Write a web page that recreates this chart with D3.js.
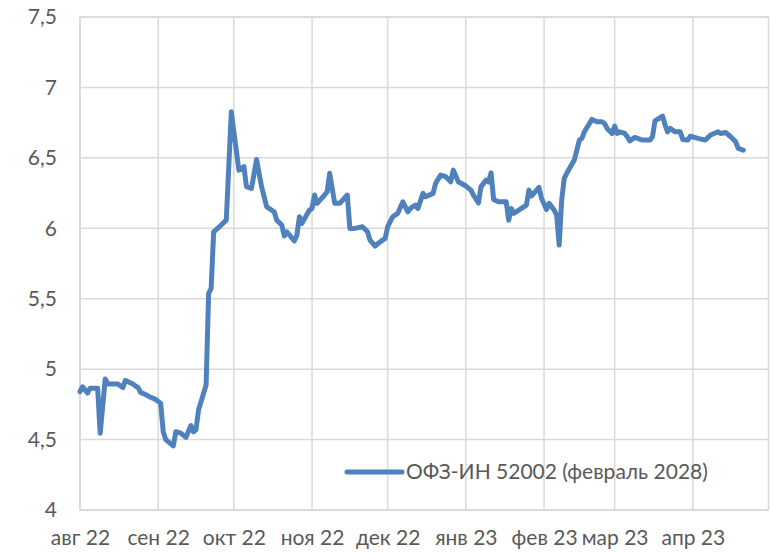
<!DOCTYPE html>
<html>
<head>
<meta charset="utf-8">
<script src="https://cdn.jsdelivr.net/npm/d3@7"></script>
<style>
  html, body { margin: 0; padding: 0; background: #fff; }
  svg { display: block; }
  text { font-family: Lato, "Open Sans", sans-serif; fill: #595959; }
</style>
</head>
<body>
<svg id="chart" width="774" height="554"></svg>
<script>
// Доходность ОФЗ-ИН 52002, %
const seriesName = "ОФЗ-ИН 52002 (февраль 2028)";

const dates = [
  "2022-08-01","2022-08-02","2022-08-04","2022-08-05","2022-08-08","2022-08-09","2022-08-11","2022-08-12",
  "2022-08-16","2022-08-18","2022-08-19","2022-08-22","2022-08-23","2022-08-24","2022-08-25","2022-08-27",
  "2022-08-29","2022-08-31","2022-09-02","2022-09-03","2022-09-04","2022-09-06","2022-09-07","2022-09-08",
  "2022-09-10","2022-09-12","2022-09-14","2022-09-15","2022-09-16","2022-09-17","2022-09-20","2022-09-21",
  "2022-09-22","2022-09-23","2022-09-26","2022-09-28","2022-09-30","2022-10-01","2022-10-03","2022-10-05",
  "2022-10-06","2022-10-08","2022-10-10","2022-10-12","2022-10-14","2022-10-17","2022-10-18","2022-10-20",
  "2022-10-21","2022-10-22","2022-10-25","2022-10-26","2022-10-27","2022-10-28","2022-10-31","2022-11-01",
  "2022-11-02","2022-11-03","2022-11-06","2022-11-07","2022-11-08","2022-11-10","2022-11-12","2022-11-15",
  "2022-11-16","2022-11-18","2022-11-21","2022-11-23","2022-11-24","2022-11-26","2022-11-28","2022-11-30",
  "2022-12-01","2022-12-03","2022-12-05","2022-12-07","2022-12-09","2022-12-10","2022-12-12","2022-12-13",
  "2022-12-15","2022-12-16","2022-12-19","2022-12-20","2022-12-22","2022-12-24","2022-12-26","2022-12-27",
  "2022-12-29","2023-01-01","2023-01-03","2023-01-04","2023-01-06","2023-01-07","2023-01-09","2023-01-10",
  "2023-01-11","2023-01-12","2023-01-14","2023-01-17","2023-01-18","2023-01-19","2023-01-20","2023-01-25",
  "2023-01-26","2023-01-27","2023-01-30","2023-01-31","2023-02-02","2023-02-03","2023-02-05","2023-02-06",
  "2023-02-07","2023-02-08","2023-02-09","2023-02-10","2023-02-13","2023-02-15","2023-02-16","2023-02-17",
  "2023-02-20","2023-02-22","2023-02-24","2023-02-25","2023-02-26","2023-02-28","2023-03-01","2023-03-02",
  "2023-03-03","2023-03-05","2023-03-06","2023-03-07","2023-03-09","2023-03-12","2023-03-15","2023-03-16",
  "2023-03-17","2023-03-20","2023-03-21","2023-03-22","2023-03-23","2023-03-25","2023-03-27","2023-03-28",
  "2023-03-30","2023-03-31","2023-04-03","2023-04-06","2023-04-08","2023-04-11","2023-04-12","2023-04-14",
  "2023-04-16","2023-04-18","2023-04-19","2023-04-21"
];

const yields = [
  4.84, 4.875, 4.83, 4.865, 4.865, 4.545, 4.93, 4.895,
  4.895, 4.87, 4.92, 4.895, 4.88, 4.87, 4.835, 4.82,
  4.80, 4.785, 4.757, 4.556, 4.50, 4.47, 4.455, 4.556,
  4.545, 4.516, 4.60, 4.556, 4.57, 4.71, 4.887, 5.538,
  5.573, 5.975, 6.023, 6.058, 6.827, 6.685, 6.413, 6.437,
  6.295, 6.283, 6.489, 6.295, 6.153, 6.117, 6.058, 6.023,
  5.945, 5.975, 5.91, 5.95, 6.082, 6.035, 6.129, 6.141,
  6.236, 6.177, 6.236, 6.259, 6.39, 6.177, 6.177, 6.236,
  5.999, 5.999, 6.011, 5.975, 5.916, 5.874, 5.904, 5.928,
  6.011, 6.082, 6.106, 6.188, 6.117, 6.141, 6.165, 6.141,
  6.248, 6.224, 6.248, 6.319, 6.378, 6.366, 6.33, 6.413,
  6.33, 6.30, 6.271, 6.236, 6.181, 6.295, 6.342, 6.33,
  6.394, 6.205, 6.188, 6.188, 6.058, 6.141, 6.106, 6.165,
  6.271, 6.229, 6.29, 6.212, 6.134, 6.177, 6.129, 6.094,
  5.881, 6.2, 6.354, 6.39, 6.484, 6.626, 6.638, 6.685,
  6.773, 6.756, 6.756, 6.744, 6.709, 6.673, 6.725, 6.673,
  6.685, 6.673, 6.65, 6.621, 6.645, 6.626, 6.626, 6.65,
  6.763, 6.796, 6.733, 6.685, 6.709, 6.685, 6.685, 6.631,
  6.626, 6.654, 6.638, 6.626, 6.662, 6.685, 6.673, 6.68,
  6.65, 6.614, 6.567, 6.555
];

const monthTicks = ["2022-08-01","2022-09-01","2022-10-01","2022-11-01","2022-12-01",
                    "2023-01-01","2023-02-01","2023-03-01","2023-04-01"];
const monthLabels = ["авг 22","сен 22","окт 22","ноя 22","дек 22","янв 23","фев 23","мар 23","апр 23"];
const xDomain = ["2022-08-01", "2023-05-01"];
const yTicks = [4, 4.5, 5, 5.5, 6, 6.5, 7, 7.5];

const parse = d3.timeParse("%Y-%m-%d");
const data = dates.map((d, i) => ({ date: parse(d), value: yields[i] }));

const svg = d3.select("#chart");
const plot = { left: 80, right: 768.5, top: 17, bottom: 510 };

const x = d3.scaleTime().domain(xDomain.map(parse)).range([plot.left, plot.right]);
const y = d3.scaleLinear().domain([4, 7.5]).range([plot.bottom, plot.top]);

const gridColor = "#d9d9d9";

// horizontal grid
svg.append("g")
  .selectAll("line").data(yTicks).join("line")
  .attr("x1", plot.left).attr("x2", plot.right)
  .attr("y1", d => y(d)).attr("y2", d => y(d))
  .attr("stroke", gridColor).attr("stroke-width", 1.5);

// vertical grid at month starts
svg.append("g")
  .selectAll("line").data(monthTicks.map(parse)).join("line")
  .attr("x1", d => x(d)).attr("x2", d => x(d))
  .attr("y1", plot.top).attr("y2", plot.bottom)
  .attr("stroke", gridColor).attr("stroke-width", 1.5);

// plot border
svg.append("rect")
  .attr("x", plot.left).attr("y", plot.top)
  .attr("width", plot.right - plot.left).attr("height", plot.bottom - plot.top)
  .attr("fill", "none").attr("stroke", gridColor).attr("stroke-width", 1.5);

// y axis labels
const yAxis = d3.axisLeft(y).tickValues(yTicks).tickSize(0).tickPadding(0)
  .tickFormat(d => String(d).replace(".", ","));
const gy = svg.append("g").attr("transform", `translate(57,0)`).call(yAxis);
gy.select(".domain").remove();
gy.selectAll("text").style("font-size", "21px").attr("fill", "#595959")
  .style("font-family", "Lato, 'Open Sans', sans-serif");

// x axis labels
const xAxis = d3.axisBottom(x).tickValues(monthTicks.map(parse)).tickSize(0).tickPadding(0)
  .tickFormat((d, i) => monthLabels[i]);
const gx = svg.append("g").attr("transform", `translate(0,530)`).call(xAxis);
gx.select(".domain").remove();
gx.selectAll("text").style("font-size", "21px").attr("fill", "#595959")
  .style("font-family", "Lato, 'Open Sans', sans-serif");

// series line
const lineColor = "#4f81bd";
const line = d3.line().x(d => x(d.date)).y(d => y(d.value));
svg.append("path")
  .datum(data)
  .attr("d", line)
  .attr("fill", "none")
  .attr("stroke", lineColor)
  .attr("stroke-width", 5)
  .attr("stroke-linejoin", "round")
  .attr("stroke-linecap", "round");

// legend
const legend = svg.append("g").attr("transform", "translate(347,472)");
legend.append("line").attr("x1", 0).attr("x2", 55).attr("y1", 0).attr("y2", 0)
  .attr("stroke", lineColor).attr("stroke-width", 5).attr("stroke-linecap", "round");
legend.append("text").attr("x", 59).attr("y", 0).attr("dy", "0.35em")
  .style("font-size", "21px").text(seriesName);
</script>
</body>
</html>
